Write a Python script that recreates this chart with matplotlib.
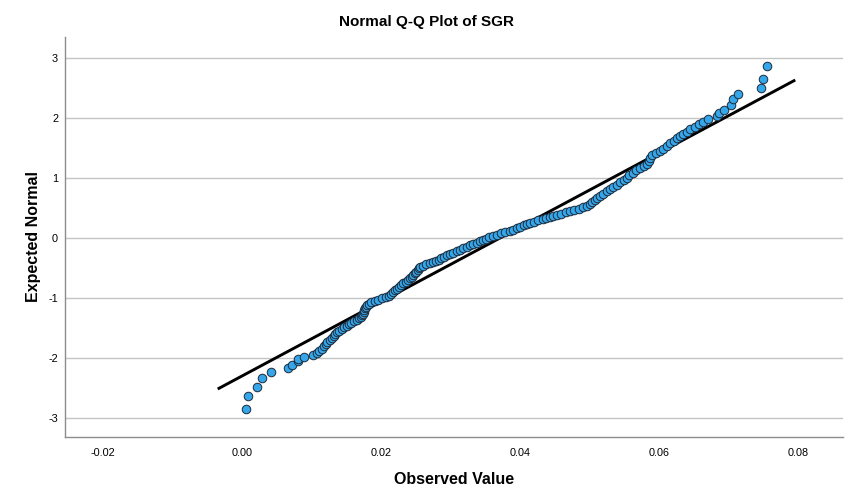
import matplotlib
matplotlib.use("Agg")
import matplotlib.pyplot as plt

plt.rcParams['font.family'] = ['Liberation Sans', 'DejaVu Sans']
plt.rcParams['axes.unicode_minus'] = False

observed = [
    0.00053, 0.00091, 0.00220, 0.00292, 0.00413, 0.00658, 0.00724, 0.00801, 0.00812, 0.00892,
    0.01026, 0.01074, 0.01110, 0.01147, 0.01185, 0.01210, 0.01228, 0.01262, 0.01300, 0.01320,
    0.01340, 0.01362, 0.01395, 0.01440, 0.01470, 0.01505, 0.01540, 0.01575, 0.01610, 0.01650,
    0.01680, 0.01710, 0.01728, 0.01742, 0.01752, 0.01760, 0.01770, 0.01780, 0.01795, 0.01820,
    0.01860, 0.01910, 0.01960, 0.02020, 0.02070, 0.02110, 0.02140, 0.02170, 0.02200, 0.02230,
    0.02260, 0.02290, 0.02320, 0.02355, 0.02390, 0.02418, 0.02445, 0.02465, 0.02485, 0.02505,
    0.02530, 0.02548, 0.02565, 0.02600, 0.02650, 0.02700, 0.02745, 0.02790, 0.02830, 0.02870,
    0.02900, 0.02945, 0.02990, 0.03040, 0.03090, 0.03140, 0.03185, 0.03230, 0.03280, 0.03330,
    0.03380, 0.03425, 0.03470, 0.03515, 0.03560, 0.03610, 0.03665, 0.03720, 0.03790, 0.03856,
    0.03904, 0.03950, 0.04000, 0.04050, 0.04100, 0.04145, 0.04200, 0.04260, 0.04330, 0.04380,
    0.04430, 0.04480, 0.04530, 0.04590, 0.04660, 0.04720, 0.04780, 0.04850, 0.04910, 0.04960,
    0.05000, 0.05040, 0.05080, 0.05110, 0.05150, 0.05200, 0.05250, 0.05295, 0.05340, 0.05390,
    0.05440, 0.05490, 0.05535, 0.05575, 0.05620, 0.05670, 0.05727, 0.05780, 0.05830, 0.05855,
    0.05870, 0.05900, 0.05960, 0.06014, 0.06060, 0.06110, 0.06158, 0.06210, 0.06254, 0.06300,
    0.06350, 0.06400, 0.06446, 0.06518, 0.06580, 0.06638, 0.06710, 0.06830, 0.06868, 0.06940,
    0.07036, 0.07069, 0.07141, 0.07463, 0.07492, 0.07560,
]

# Expected normal values
expected = [
    -2.855, -2.628, -2.483, -2.333, -2.228, -2.167, -2.117, -2.050, -2.017, -1.983,
    -1.945, -1.912, -1.878, -1.845, -1.805, -1.770, -1.733, -1.700, -1.668, -1.640,
    -1.608, -1.575, -1.545, -1.515, -1.488, -1.462, -1.435, -1.410, -1.385, -1.360,
    -1.338, -1.315, -1.290, -1.262, -1.235, -1.205, -1.175, -1.148, -1.120, -1.095,
    -1.070, -1.048, -1.028, -1.008, -0.985, -0.960, -0.935, -0.905, -0.875, -0.845,
    -0.815, -0.785, -0.755, -0.728, -0.700, -0.672, -0.645, -0.617, -0.590, -0.562,
    -0.535, -0.508, -0.480, -0.460, -0.440, -0.420, -0.400, -0.380, -0.360, -0.335,
    -0.312, -0.288, -0.265, -0.242, -0.218, -0.195, -0.170, -0.148, -0.125, -0.102,
    -0.080, -0.058, -0.035, -0.012, 0.010, 0.032, 0.055, 0.075, 0.095, 0.115,
    0.140, 0.165, 0.188, 0.210, 0.232, 0.252, 0.272, 0.292, 0.312, 0.330,
    0.348, 0.365, 0.385, 0.405, 0.425, 0.445, 0.468, 0.490, 0.515, 0.540,
    0.570, 0.600, 0.635, 0.670, 0.705, 0.740, 0.775, 0.810, 0.850, 0.890,
    0.930, 0.970, 1.005, 1.045, 1.085, 1.125, 1.160, 1.200, 1.240, 1.290,
    1.335, 1.375, 1.410, 1.445, 1.490, 1.535, 1.578, 1.620, 1.662, 1.695,
    1.728, 1.770, 1.812, 1.855, 1.895, 1.928, 1.983, 2.038, 2.078, 2.133,
    2.212, 2.317, 2.400, 2.505, 2.645, 2.872,
]

# Reference (normal) line endpoints
line_x = [-0.0035, 0.0796]
line_y = [-2.517, 2.633]

x_ticks = [-0.02, 0.00, 0.02, 0.04, 0.06, 0.08]
x_tick_labels = ["-0.02", "0.00", "0.02", "0.04", "0.06", "0.08"]
y_ticks = [-3, -2, -1, 0, 1, 2, 3]
y_tick_labels = ["-3", "-2", "-1", "0", "1", "2", "3"]

fig = plt.figure(figsize=(8.53, 5.03), dpi=100)
ax = fig.add_axes([65 / 853, 66 / 503, 778 / 853, 400 / 503])

ax.set_xlim(-0.02547, 0.08647)
ax.set_ylim(-3.317, 3.35)

for t in y_ticks:
    ax.axhline(t, color='#c4c4c4', lw=1.0, zorder=1)

ax.plot(line_x, line_y, color='black', lw=2.1, solid_capstyle='butt', zorder=3)
ax.scatter(observed, expected, s=38, facecolor='#35a6ea', edgecolor='#1c2a3a',
           linewidths=0.7, zorder=4)

ax.set_xticks(x_ticks)
ax.set_xticklabels(x_tick_labels)
ax.set_yticks(y_ticks)
ax.set_yticklabels(y_tick_labels)
ax.tick_params(axis='both', length=0, labelsize=7.8, colors='black')
ax.tick_params(axis='x', pad=8)
ax.tick_params(axis='y', pad=5)

for s in ['top', 'right']:
    ax.spines[s].set_visible(False)
for s in ['left', 'bottom']:
    ax.spines[s].set_color('#8c8c8c')
    ax.spines[s].set_linewidth(1.0)

ax.set_xlabel("Observed Value", fontsize=11.5, fontweight='bold', labelpad=10)
ax.set_ylabel("Expected Normal", fontsize=11.5, fontweight='bold', labelpad=5)
fig.text(0.5, 1 - 22 / 503, "Normal Q-Q Plot of SGR",
         ha='center', va='center', fontsize=11, fontweight='bold')

fig.savefig("out.png", dpi=100)
